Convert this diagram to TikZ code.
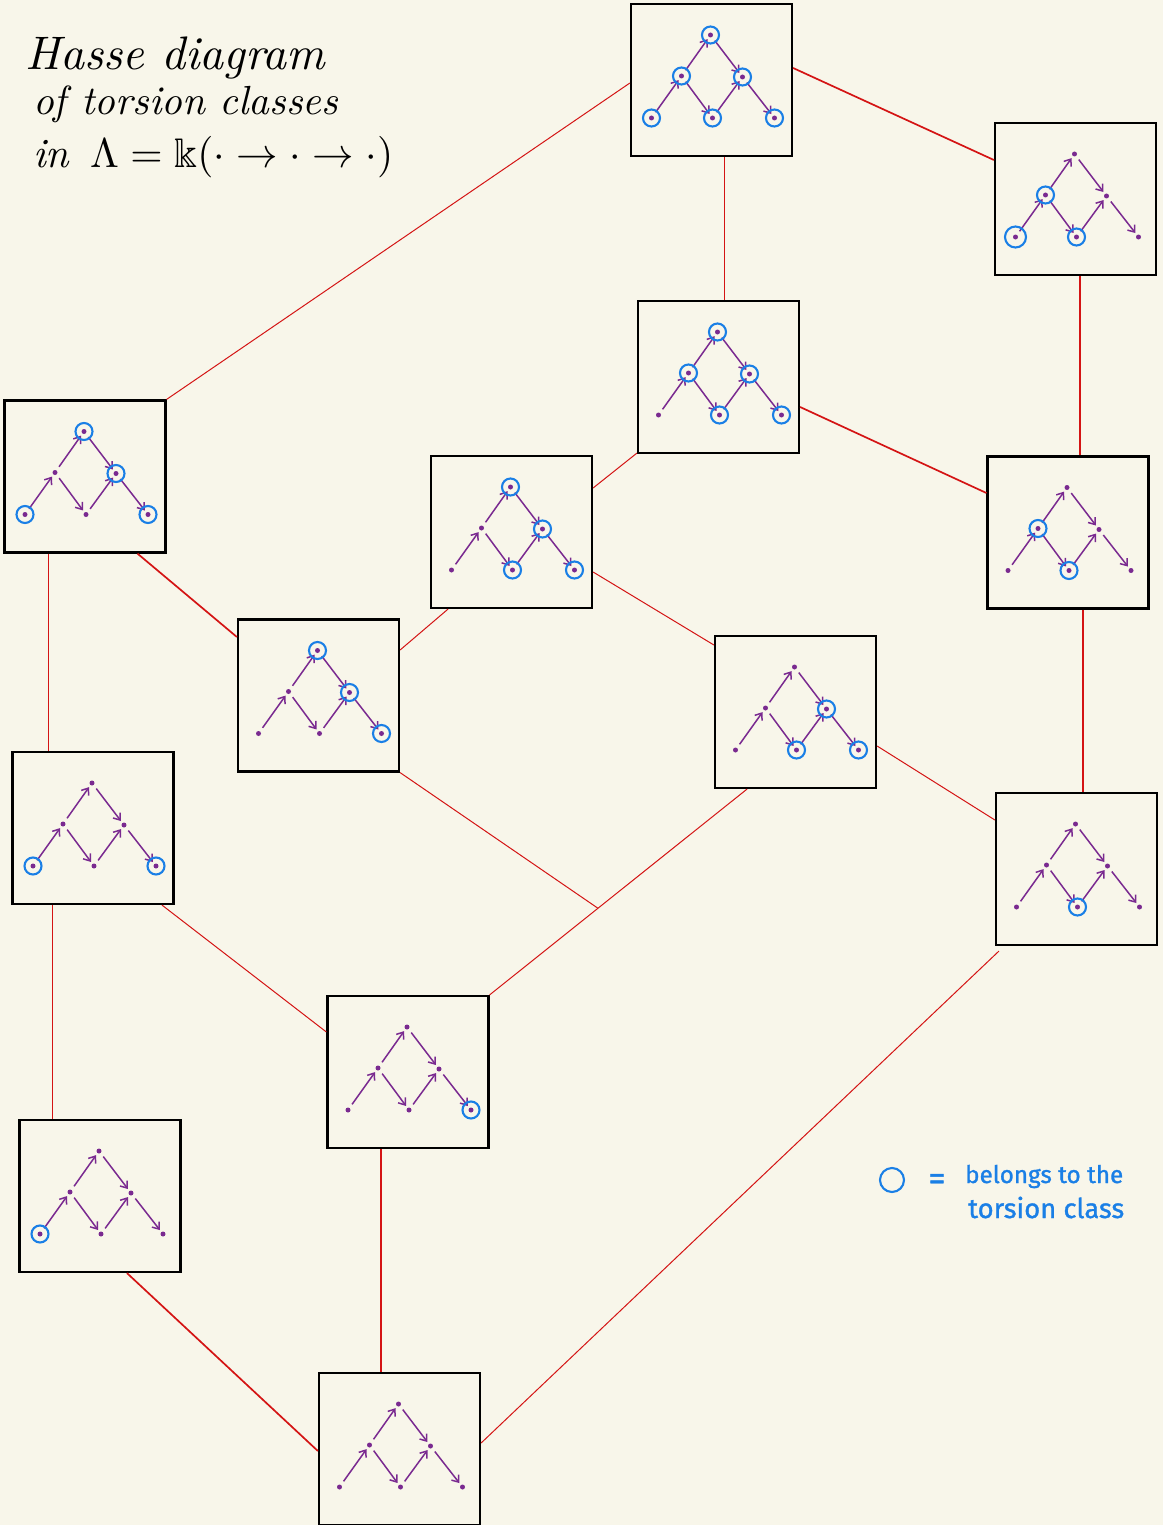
\documentclass[tikz,border=0pt]{standalone}
\usepackage{amssymb}
\usepackage{graphicx}
\usepackage{fontspec}
\newfontfamily\legendfont{Fira Sans}[FakeBold=1.2]
\usetikzlibrary{arrows.meta,calc}
\definecolor{bgc}{HTML}{F8F6EA}
\definecolor{quivc}{HTML}{7A2A90}
\definecolor{memc}{HTML}{1A7FE6}
\definecolor{hassec}{HTML}{D41414}
\tikzset{
  qbox/.style={draw=black,line width=2.2pt,fill=bgc,minimum width=161pt,minimum height=152pt,inner sep=0pt},
  qarrow/.style={draw=quivc,line width=1.5pt,shorten <=7pt,shorten >=5pt,-{Straight Barb[length=6pt,width=9pt,line width=1.5pt]}},
  qdot/.style={fill=quivc},
  member/.style={draw=memc,line width=2.1pt},
  hasse/.style={draw=hassec,line width=1.7pt},
  hassethin/.style={draw=hassec,line width=1.0pt},
}
\newcommand\arquiver[2]{%
  \node[qbox] (#1) at (#2) {};
  \begin{scope}[shift={(#1.center)}]
    \coordinate (#1-a) at (-60,38);
    \coordinate (#1-b) at (-30,-4);
    \coordinate (#1-c) at (-1,-45);
    \coordinate (#1-d) at (31,-3);
    \coordinate (#1-e) at (1,38);
    \coordinate (#1-f) at (63,38);
  \end{scope}
  \foreach \v in {a,b,c,d,e,f} \fill[qdot] (#1-\v) circle[radius=2.5pt];
  \draw[qarrow] (#1-a) -- (#1-b);
  \draw[qarrow] (#1-b) -- (#1-c);
  \draw[qarrow] (#1-b) -- (#1-e);
  \draw[qarrow] (#1-c) -- (#1-d);
  \draw[qarrow] (#1-e) -- (#1-d);
  \draw[qarrow] (#1-d) -- (#1-f);
}
\newcommand\members[2]{\foreach \v in {#2} \draw[member] (#1-\v) circle[radius=8.5pt];}
\begin{document}
\begin{tikzpicture}[x=1pt,y=-1pt]
\useasboundingbox (0,0) rectangle (1163,1525);
\fill[bgc] (0,0) rectangle (1163,1525);

% title
\node[anchor=base west,inner sep=0pt] (t1) at (25,70) {\resizebox{300pt}{!}{\itshape Hasse diagram}};
\node[anchor=base west,inner sep=0pt] (t2) at (33,115) {\resizebox{305pt}{!}{\itshape of torsion classes}};
\node[anchor=base west,inner sep=0pt] (t3) at (33,168) {\resizebox{360pt}{!}{\itshape in\enspace $\Lambda = \Bbbk(\cdot \to \cdot \to \cdot)$}};

% boxes
\arquiver{b1}{711.5,80}
\arquiver{b2}{1075.5,199}
\arquiver{b3}{718.5,377}
\arquiver{b4}{85,476.5}
\arquiver{b5}{511.5,532}
\arquiver{b6}{1068,532.5}
\arquiver{b7}{318.5,695.5}
\arquiver{b8}{795.5,712}
\arquiver{b9}{93,828}
\arquiver{b10}{1076.5,869}
\arquiver{b11}{408,1072}
\arquiver{b12}{100,1196}
\arquiver{b13}{399.5,1449}

\members{b1}{a,b,c,d,e,f}
\members{b2}{b,e}
\draw[member] (b2-a) circle[radius=10.5pt];
\members{b3}{b,c,d,e,f}
\members{b4}{a,c,d,f}
\members{b5}{c,d,e,f}
\members{b6}{b,e}
\members{b7}{c,d,f}
\members{b8}{d,e,f}
\members{b9}{a,f}
\members{b10}{e}
\members{b11}{f}
\members{b12}{a}

% Hasse edges
\draw[hassethin] ($(b1.west)+(0,3)$) -- (b4.north east);
\draw[hasse] ($(b1.east)+(0,-12)$) -- ($(b2.west)+(0,-39)$);
\draw[hassethin] ($(b1.south)+(12.5,0)$) -- ($(b3.north)+(5.5,0)$);
\draw[hasse] ($(b2.south)+(4.5,0)$) -- ($(b6.north)+(12,0)$);
\draw[hasse] ($(b3.east)+(0,30)$) -- ($(b6.west)+(0,-39.5)$);
\draw[hassethin] ($(b3.south west)+(0,-1)$) -- ($(b5.east)+(0,-44)$);
\draw[hassethin] ($(b4.south)+(-37,0)$) -- ($(b9.north)+(-45,0)$);
\draw[hasse] ($(b4.south)+(52.5,0)$) -- ($(b7.west)+(0,-58.5)$);
\draw[hassethin] ($(b5.south)+(-63.5,0)$) -- ($(b7.east)+(0,-45.5)$);
\draw[hassethin] ($(b5.east)+(0,40)$) -- ($(b8.west)+(0,-67)$);
\draw[hasse] ($(b6.south)+(15,0)$) -- ($(b10.north)+(6.5,0)$);
\coordinate (b8s) at ($(b8.south)+(-48.5,0)$);
\coordinate (J) at ($(b8s)!0.579!(b11.north east)$);
\draw[hassethin] (b8s) -- (b11.north east);
\draw[hassethin] (b7.south east) -- (J);
\draw[hassethin] ($(b8.east)+(0,34)$) -- ($(b10.west)+(0,-49)$);
\draw[hassethin] ($(b9.south)+(69,0)$) -- ($(b11.west)+(0,-40)$);
\draw[hassethin] ($(b9.south)+(-41,0)$) -- ($(b12.north)+(-48,0)$);
\draw[hassethin] ($(b10.south west)+(4,5)$) -- ($(b13.east)+(0,-6)$);
\draw[hasse] ($(b11.south)+(-27,0)$) -- ($(b13.north)+(-18.5,0)$);
\draw[hasse] ($(b12.south)+(27,0)$) -- ($(b13.west)+(0,2)$);

% legend
\draw[member] (892,1180) circle[radius=12pt];
\node[anchor=center,inner sep=0pt,text=memc] (eq) at (937,1182) {\resizebox{17pt}{!}{\legendfont =}};
\node[anchor=base west,inner sep=0pt,text=memc] (l1) at (965,1183) {\resizebox{158pt}{!}{\legendfont belongs to the}};
\node[anchor=base west,inner sep=0pt,text=memc] (l2) at (968,1218) {\resizebox{156pt}{!}{\legendfont torsion class}};
\end{tikzpicture}
\end{document}
